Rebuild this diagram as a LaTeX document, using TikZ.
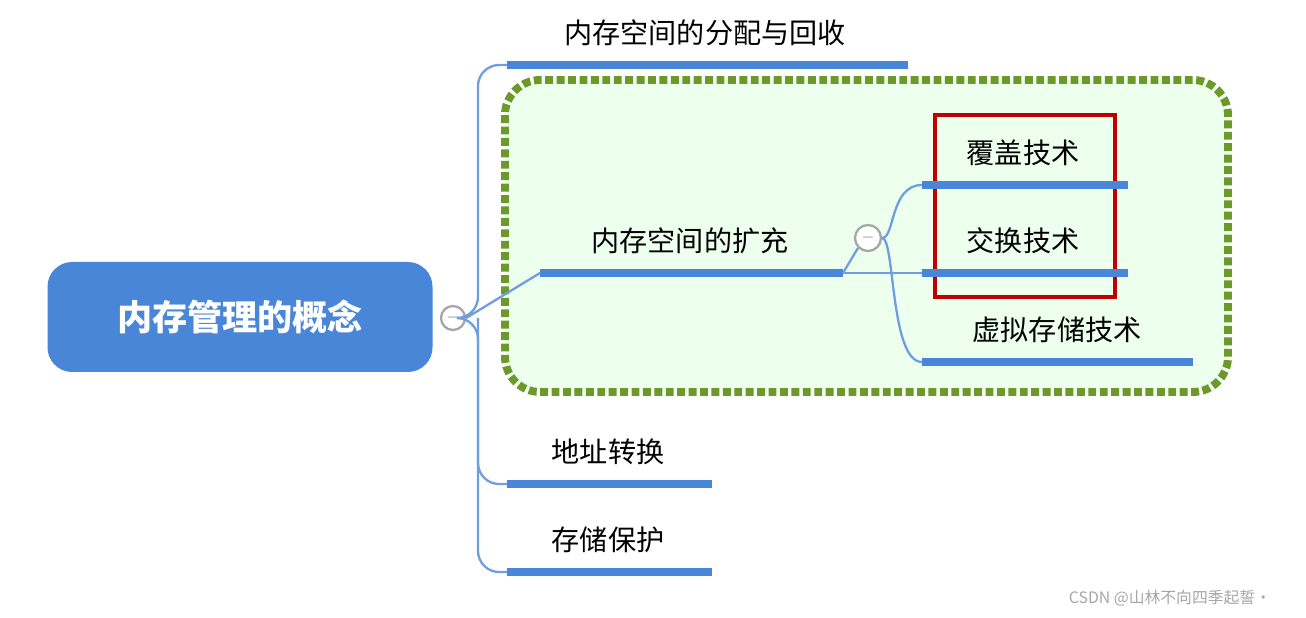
\documentclass[tikz,border=0pt]{standalone}
\usepackage{fontspec}
\setmainfont{Noto Sans CJK SC}
\definecolor{rootblue}{HTML}{4A86D8}
\definecolor{lineblue}{HTML}{4A86D8}
\definecolor{dotgreen}{HTML}{6B9A2B}
\definecolor{boxred}{HTML}{C00000}
\tikzset{
  topic/.style={font=\fontsize{16}{18}\selectfont, inner sep=0pt},
  uline/.style={line width=4.5pt, draw=lineblue},
  link/.style={line width=1.3pt, draw=lineblue!80, rounded corners=12pt},
  fold/.style={circle, draw=gray!70, line width=1.3pt, fill=white, minimum size=24\pgflinewidth, inner sep=0pt, font=\bfseries\small, text=gray}
}
\begin{document}
\begin{tikzpicture}[x=0.02cm, y=-0.02cm]
    \useasboundingbox (0,0) rectangle (1306,618);

    % Ausbreitung
    \draw[fill=green!7, draw=dotgreen, line width=4.5pt, dotted, rounded corners=20pt] (505,80) rectangle (1228,392);
    \draw[boxred, line width=2pt] (935,115) rectangle (1115,297);

    % Wurzel
    \node[fill=rootblue, rounded corners=14pt, minimum width=385*0.02cm, minimum height=110*0.02cm,
          text=white, font=\fontsize{20}{22}\selectfont\bfseries] (root) at (240,317) {内存管理的概念};
    \node[fold, minimum size=0.48cm] (f1) at (453,318) {$-$};

    % Zweige
    \coordinate (a1) at (507,65);  \coordinate (a2) at (908,65);
    \coordinate (b1) at (540,273); \coordinate (b2) at (843,273);
    \coordinate (c1) at (507,484); \coordinate (c2) at (712,484);
    \coordinate (d1) at (507,572); \coordinate (d2) at (712,572);
    \draw[uline] (a1) -- (a2);
    \draw[uline] (b1) -- (b2);
    \draw[uline] (c1) -- (c2);
    \draw[uline] (d1) -- (d2);
    \node[topic] (ta) at (705,33) {内存空间的分配与回收};
    \node[topic] (tb) at (690,241) {内存空间的扩充};
    \node[topic] (tc) at (608,452) {地址转换};
    \node[topic] (td) at (608,540) {存储保护};

    \draw[link] (f1.east) -- (478,318) |- (a1);
    \draw[link] (f1.east) -- (478,318) |- (d1);
    \draw[link] (478,318) |- (c1);
    \draw[link, rounded corners=0pt] (f1.east) -- (b1);

    % Unterzweige
    \node[fold, minimum size=0.52cm] (f2) at (868,238) {$-$};
    \coordinate (e1) at (922,185); \coordinate (e2) at (1128,185);
    \coordinate (g1) at (922,273); \coordinate (g2) at (1128,273);
    \coordinate (h1) at (922,362); \coordinate (h2) at (1193,362);
    \draw[uline] (e1) -- (e2);
    \draw[uline] (g1) -- (g2);
    \draw[uline] (h1) -- (h2);
    \node[topic] (te) at (1023,153) {覆盖技术};
    \node[topic] (tg) at (1023,241) {交换技术};
    \node[topic] (th) at (1057,330) {虚拟存储技术};
    \draw[link, rounded corners=0pt] (b2) -- (f2.south west);
    \draw[link, rounded corners=25pt] (f2.east) .. controls (895,238) and (890,185) .. (e1);
    \draw[link, rounded corners=25pt] (f2.east) .. controls (895,238) and (890,362) .. (h1);
    \draw[link, rounded corners=0pt] (843,273) -- (g1);

    % Wasserzeichen
    \node[text=gray!70, font=\fontsize{9}{10}\selectfont] (wm) at (1170,598) {CSDN @山林不向四季起誓·};
\end{tikzpicture}
\end{document}
